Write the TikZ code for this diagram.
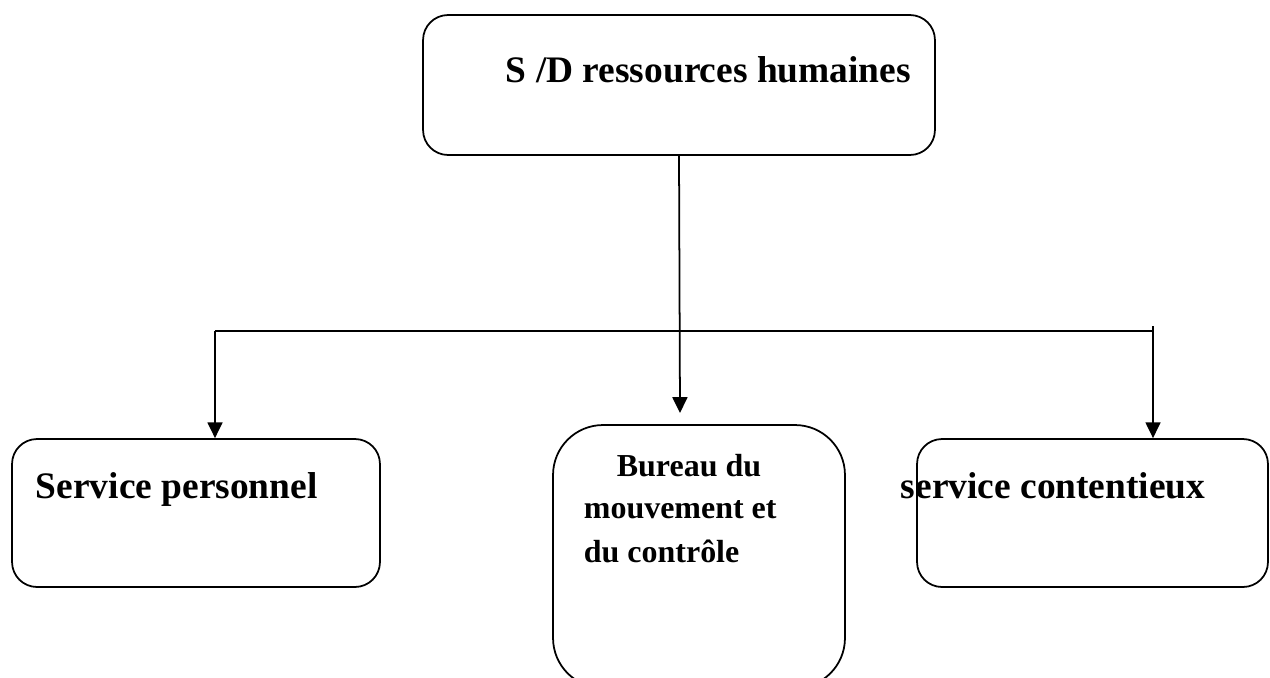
\documentclass[tikz,border=0pt]{standalone}
\usepackage{fontspec}
\setmainfont{Liberation Serif}
\usetikzlibrary{arrows.meta}

\begin{document}
\begin{tikzpicture}[x=0.02cm, y=-0.02cm, line width=1pt,
    box/.style={draw, rounded corners=0.5cm, inner sep=0pt},
    big/.style={font=\bfseries\fontsize{21.3}{25}\selectfont, inner sep=0pt, anchor=base west},
    small/.style={font=\bfseries\fontsize{18.2}{22}\selectfont, inner sep=0pt, anchor=base west},
    arr/.style={-{Triangle[width=8.5pt,length=9pt]}}]
        \useasboundingbox (0,0) rectangle (1270,677);

        % Boxes
        \node[box, minimum width=10.24cm, minimum height=2.8cm] (top) at (679,85) {};
        \node[box, minimum width=7.36cm, minimum height=2.96cm] (pers) at (196,513) {};
        \node[box, rounded corners=1cm, minimum width=5.84cm, minimum height=5.26cm] (bur) at (699,556.5) {};
        \node[box, minimum width=7.02cm, minimum height=2.96cm] (cont) at (1092.5,513) {};

        % Texts
        \node[big] (t-top) at (505,82) {S /D ressources humaines};
        \node[big] (t-pers) at (35,498) {Service personnel};
        \node[small] (t-bur1) at (616,476) {Bureau du};
        \node[small] (t-bur2) at (583,518) {mouvement et};
        \node[small] (t-bur3) at (583,562) {du contrôle};
        \node[big] (t-cont) at (900,498) {service contentieux};

        % Connectors
        \coordinate (busL) at (215,331);
        \coordinate (busR) at (1153,331);
        \coordinate (tipM) at (680,413);
        \draw (busL) -- (busR);
        \draw[arr] (top.south) -- (tipM);
        \draw[arr] (busL) -- (busL |- pers.north);
        \draw[arr] ([yshift=0.1cm]busR) -- (busR |- cont.north);
\end{tikzpicture}
\end{document}
